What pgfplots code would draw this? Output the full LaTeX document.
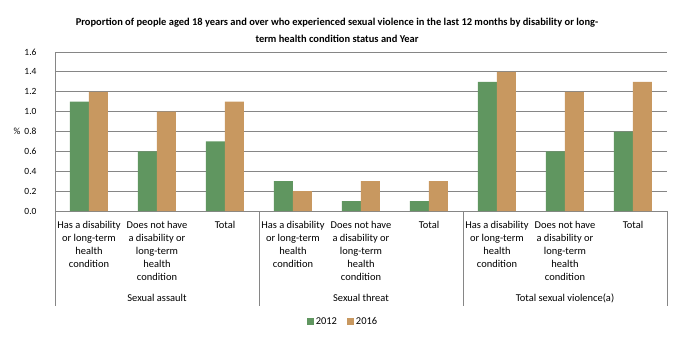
\documentclass[border=0pt]{standalone}
\usepackage{pgfplots}
\pgfplotsset{compat=1.18}
\usepackage{fontspec}
\setmainfont{Carlito}
\definecolor{cgreen}{RGB}{96,150,96}
\definecolor{ctan}{RGB}{200,152,96}
\definecolor{cgrid}{RGB}{134,134,134}
\begin{document}
\begin{tikzpicture}
\useasboundingbox (-55bp,-130bp) rectangle (625bp,211bp);
\begin{axis}[
  at={(0,0)}, anchor=south west,
  scale only axis, width=612bp, height=159bp,
  ybar=0pt, bar width=19bp,
  xmin=-0.5, xmax=8.5, ymin=0, ymax=1.6,
  ytick={0,0.2,...,1.6},
  xtick={0,1,2,3,4,5,6,7,8},
  xticklabels={
    {Has a disability\\or long-term\\health\\condition},
    {Does not have\\a disability or\\long-term\\health\\condition},
    {Total},
    {Has a disability\\or long-term\\health\\condition},
    {Does not have\\a disability or\\long-term\\health\\condition},
    {Total},
    {Has a disability\\or long-term\\health\\condition},
    {Does not have\\a disability or\\long-term\\health\\condition},
    {Total}},
  xticklabel style={align=center, font=\fontsize{10.5}{13}\selectfont, yshift=-7bp},
  yticklabel style={font=\fontsize{9.5}{12}\selectfont, xshift=-15bp},
  /pgf/number format/assume math mode=true,
  yticklabel={\pgfmathprintnumber[fixed,fixed zerofill,precision=1]{\tick}},
  major tick length=0pt,
  axis line style={draw=none},
  ymajorgrids, grid style={cgrid, line width=0.9bp},
  clip=false,
  legend style={at={(0.4706,-0.698)}, anchor=center, draw=none, legend columns=2,
    font=\fontsize{10.5}{12}\selectfont, /tikz/every even column/.append style={column sep=8bp}},
  legend image code/.code={\fill[#1] (0bp,-3.5bp) rectangle (7bp,3.5bp);},
]
\addplot[fill=cgreen, draw=none] coordinates {(0,1.1) (1,0.6) (2,0.7) (3,0.3) (4,0.1) (5,0.1) (6,1.3) (7,0.6) (8,0.8)};
\addplot[fill=ctan, draw=none] coordinates {(0,1.2) (1,1.0) (2,1.1) (3,0.2) (4,0.3) (5,0.3) (6,1.4) (7,1.2) (8,1.3)};
\legend{2012,2016}
\draw[cgrid, line width=0.9bp] (axis cs:-0.5,1.6) -- ([yshift=-95bp]axis cs:-0.5,0);
\draw[cgrid, line width=0.9bp] (axis cs:2.5,0) -- ([yshift=-95bp]axis cs:2.5,0);
\draw[cgrid, line width=0.9bp] (axis cs:5.5,0) -- ([yshift=-95bp]axis cs:5.5,0);
\draw[cgrid, line width=0.9bp] (axis cs:8.5,0) -- ([yshift=-95bp]axis cs:8.5,0);
\node[font=\fontsize{10.5}{12}\selectfont] at ([yshift=-87bp]axis cs:1,0) {Sexual assault};
\node[font=\fontsize{10.5}{12}\selectfont] at ([yshift=-87bp]axis cs:4,0) {Sexual threat};
\node[font=\fontsize{10.5}{12}\selectfont] at ([yshift=-87bp]axis cs:7,0) {Total sexual violence(a)};
\node[font=\fontsize{9.5}{12}\selectfont] at ([xshift=-38bp]rel axis cs:0,0.5) {\%};
\end{axis}
\node[font=\bfseries\fontsize{10.5}{17}\selectfont, align=center] at (282bp,180.5bp)
  {Proportion of people aged 18 years and over who experienced sexual violence in the last 12 months by disability or long-\\term health condition status and Year};
\end{tikzpicture}
\end{document}
